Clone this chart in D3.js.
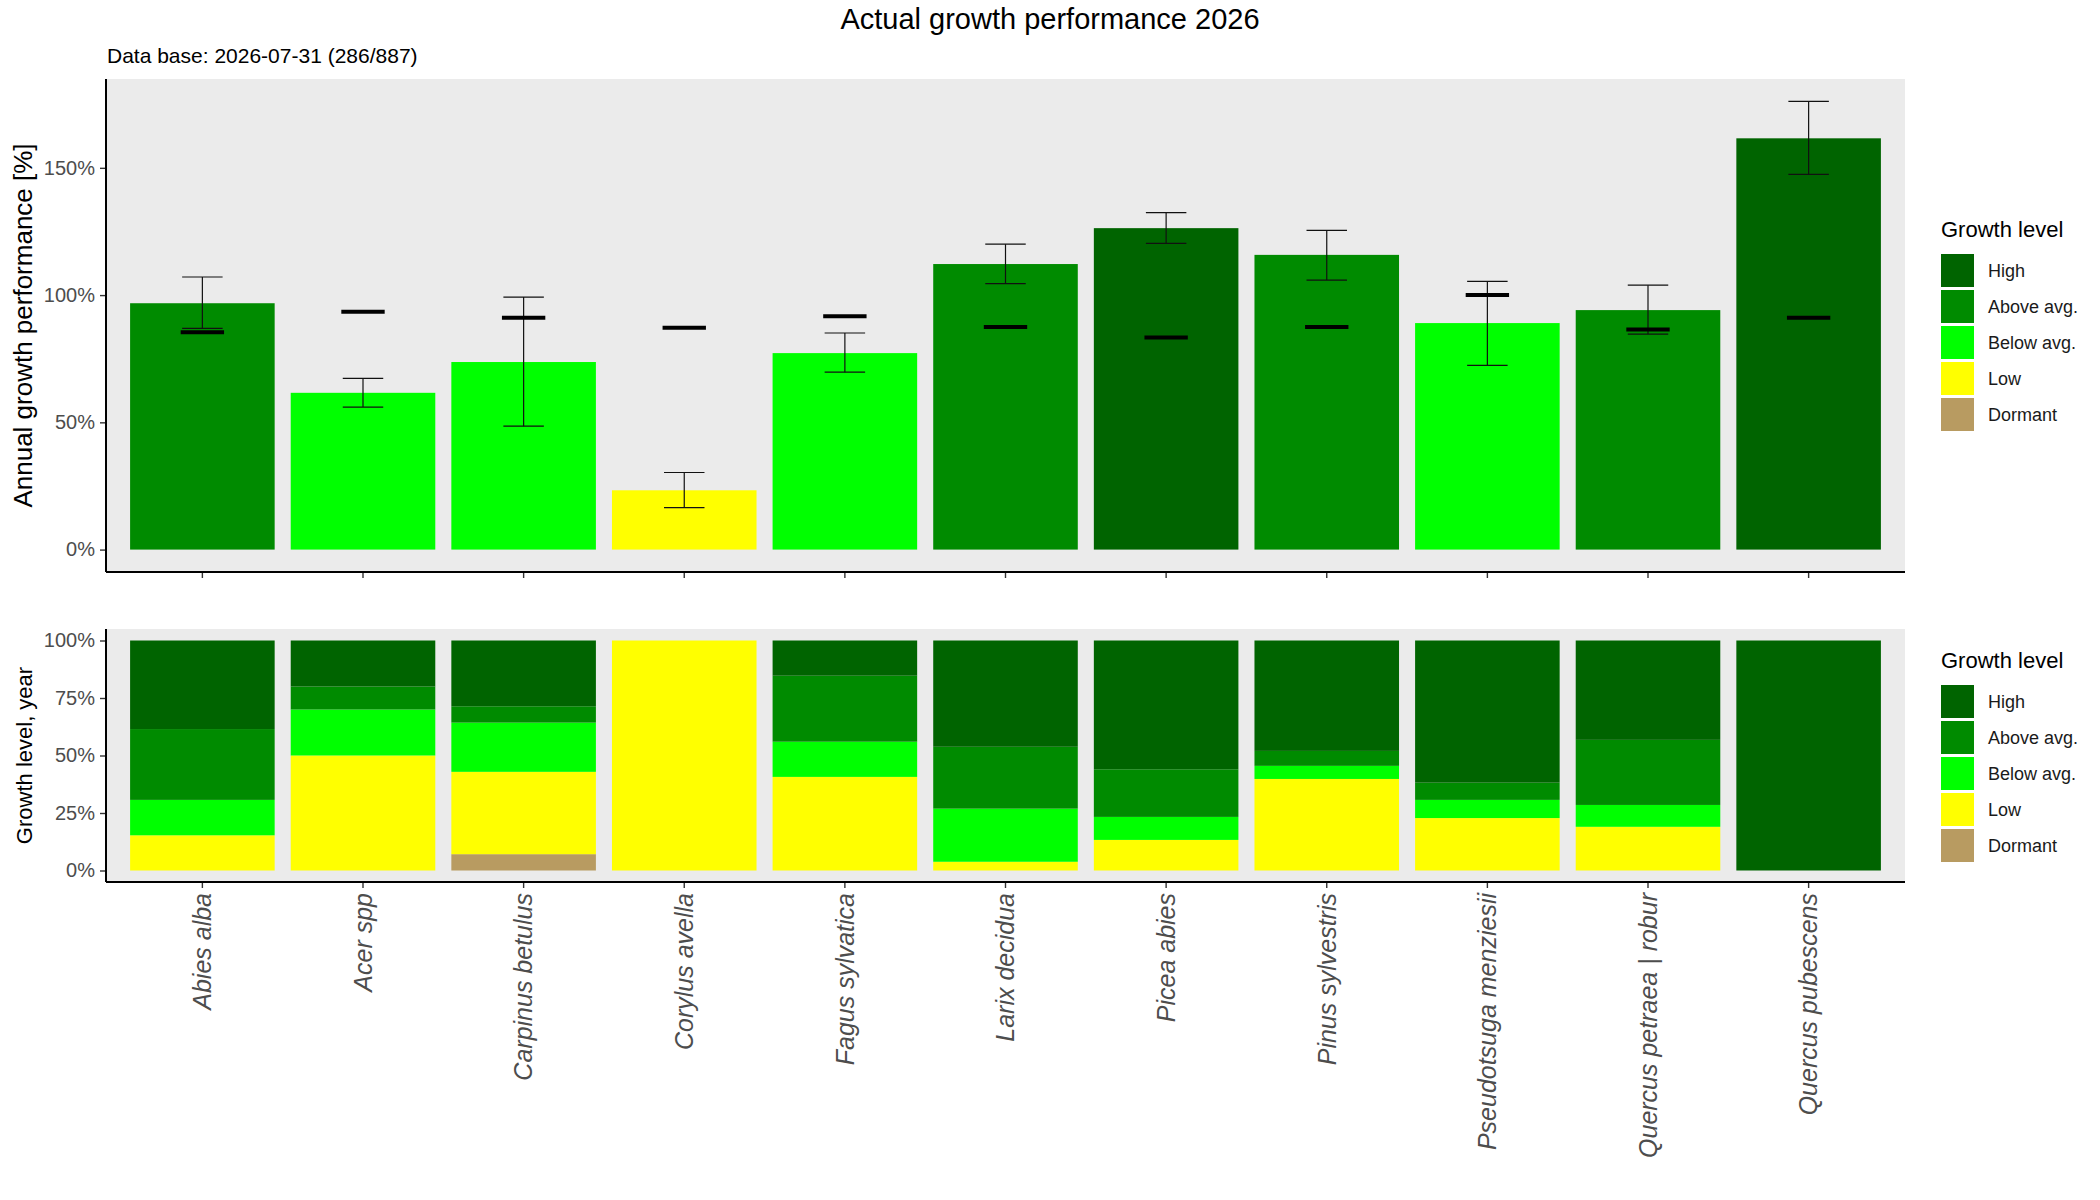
<!DOCTYPE html>
<html>
<head>
<meta charset="utf-8">
<script src="https://cdn.jsdelivr.net/npm/d3@7"></script>
<style>
  body { margin: 0; background: #fff; }
  text { font-family: "Liberation Sans", Arial, sans-serif; }
</style>
</head>
<body>
<div id="chart"></div>
<script>
// species on the x axis
var species = ["Abies alba", "Acer spp", "Carpinus betulus", "Corylus avella", "Fagus sylvatica",
  "Larix decidua", "Picea abies", "Pinus sylvestris", "Pseudotsuga menziesii",
  "Quercus petraea | robur", "Quercus pubescens"]

// top panel: actual growth, error range and reference mark (in %)
var growth = [96.8, 61.6, 73.7, 23.3, 77.2, 112.2, 126.3, 115.8, 89.0, 94.1, 161.6]
var errLow = [86.9, 56.0, 48.5, 16.5, 69.7, 104.5, 120.3, 105.9, 72.4, 84.7, 147.4]
var errHigh = [107.1, 67.3, 99.2, 30.3, 85.1, 120.0, 132.4, 125.4, 105.4, 103.9, 176.1]
var reference = [85.4, 93.5, 91.1, 87.2, 91.7, 87.5, 83.3, 87.5, 100.0, 86.5, 91.1]
var barLevel = ["Above avg.", "Below avg.", "Below avg.", "Low", "Below avg.", "Above avg.",
  "High", "Above avg.", "Below avg.", "Above avg.", "High"]

// growth levels
var levels = ["High", "Above avg.", "Below avg.", "Low", "Dormant"]
var levelColors = ["#006400", "#008B00", "#00FF00", "#FFFF00", "#B89B61"]

// bottom panel: share of each level over the year (in %)
var shareHigh = [38.5, 20, 28.6, 0, 15.3, 46.2, 56, 48, 61.8, 43.2, 100]
var shareAbove = [30.8, 10, 7.1, 0, 28.7, 26.9, 20.7, 6.5, 7.5, 28.3, 0]
var shareBelow = [15.4, 20, 21.4, 0, 15.3, 23.1, 10, 5.7, 7.9, 9.5, 0]
var shareLow = [15.3, 50, 35.8, 100, 40.7, 3.8, 13.3, 39.8, 22.8, 19, 0]
var shareDormant = [0, 0, 7.1, 0, 0, 0, 0, 0, 0, 0, 0]

var topTicks = [0, 50, 100, 150]
var bottomTicks = [0, 25, 50, 75, 100]

var W = 2100, H = 1200
var panelLeft = 106, panelRight = 1905
var top1 = 79, bot1 = 572
var top2 = 629, bot2 = 882

var color = d3.scaleOrdinal().domain(levels).range(levelColors)

var svg = d3.select("#chart").append("svg")
  .attr("width", W)
  .attr("height", H)

svg.append("text")
  .attr("x", 1050).attr("y", 29)
  .attr("text-anchor", "middle")
  .attr("font-size", 29)
  .attr("fill", "#000")
  .text("Actual growth performance 2026")

svg.append("text")
  .attr("x", 107).attr("y", 63)
  .attr("font-size", 21)
  .attr("fill", "#000")
  .text("Data base: 2026-07-31 (286/887)")

var x = d3.scaleBand()
  .domain(species)
  .range([panelLeft, panelRight])
  .paddingInner(0.1)
  .paddingOuter(0.15)

var yMax = d3.max(errHigh)
var y1 = d3.scaleLinear()
  .domain([-0.05 * yMax, yMax * 1.05])
  .range([bot1, top1])

var y2 = d3.scaleLinear()
  .domain([-5, 105])
  .range([bot2, top2])

function panel(yTop, yBot) {
  svg.append("rect")
    .attr("x", panelLeft).attr("y", yTop)
    .attr("width", panelRight - panelLeft)
    .attr("height", yBot - yTop)
    .attr("fill", "#EBEBEB")
}

function styleAxis(g, fontSize) {
  g.select(".domain").remove()
  g.selectAll(".tick line").attr("stroke", "#333").attr("stroke-width", 1.4)
  g.selectAll(".tick text")
    .attr("fill", "#4D4D4D")
    .attr("font-size", fontSize)
    .attr("font-family", "Liberation Sans, Arial, sans-serif")
}

function axisLines(yTop, yBot) {
  svg.append("line")
    .attr("x1", panelLeft).attr("x2", panelLeft)
    .attr("y1", yTop).attr("y2", yBot)
    .attr("stroke", "#000").attr("stroke-width", 2)
  svg.append("line")
    .attr("x1", panelLeft).attr("x2", panelRight)
    .attr("y1", yBot).attr("y2", yBot)
    .attr("stroke", "#000").attr("stroke-width", 2)
}

// ---------- top panel ----------
panel(top1, bot1)

svg.append("g")
  .selectAll("rect")
  .data(species)
  .enter().append("rect")
  .attr("x", function (d) { return x(d) })
  .attr("width", x.bandwidth())
  .attr("y", function (d, i) { return y1(growth[i]) })
  .attr("height", function (d, i) { return y1(0) - y1(growth[i]) })
  .attr("fill", function (d, i) { return color(barLevel[i]) })

var capW = x.bandwidth() * 0.28
var errG = svg.append("g").attr("stroke", "#111").attr("stroke-width", 1.2)
species.forEach(function (s, i) {
  var cx = x(s) + x.bandwidth() / 2
  errG.append("line")
    .attr("x1", cx).attr("x2", cx)
    .attr("y1", y1(errLow[i])).attr("y2", y1(errHigh[i]))
  errG.append("line")
    .attr("x1", cx - capW / 2).attr("x2", cx + capW / 2)
    .attr("y1", y1(errLow[i])).attr("y2", y1(errLow[i]))
  errG.append("line")
    .attr("x1", cx - capW / 2).attr("x2", cx + capW / 2)
    .attr("y1", y1(errHigh[i])).attr("y2", y1(errHigh[i]))
})

var markW = x.bandwidth() * 0.3
svg.append("g")
  .selectAll("line")
  .data(species)
  .enter().append("line")
  .attr("x1", function (d) { return x(d) + x.bandwidth() / 2 - markW / 2 })
  .attr("x2", function (d) { return x(d) + x.bandwidth() / 2 + markW / 2 })
  .attr("y1", function (d, i) { return y1(reference[i]) })
  .attr("y2", function (d, i) { return y1(reference[i]) })
  .attr("stroke", "#000")
  .attr("stroke-width", 4)

var yAxis1 = svg.append("g")
  .attr("transform", "translate(" + panelLeft + ",0)")
  .call(d3.axisLeft(y1).tickValues(topTicks).tickSize(6).tickPadding(5)
    .tickFormat(function (d) { return d + "%" }))
styleAxis(yAxis1, 20)

var xAxis1 = svg.append("g")
  .attr("transform", "translate(0," + bot1 + ")")
  .call(d3.axisBottom(x).tickSize(6).tickFormat(""))
styleAxis(xAxis1, 20)

axisLines(top1, bot1)

svg.append("text")
  .attr("transform", "translate(32," + (top1 + bot1) / 2 + ") rotate(-90)")
  .attr("text-anchor", "middle")
  .attr("font-size", 26)
  .attr("fill", "#000")
  .text("Annual growth performance [%]")

// ---------- bottom panel ----------
panel(top2, bot2)

var shares = species.map(function (s, i) {
  return { species: s, "High": shareHigh[i], "Above avg.": shareAbove[i],
    "Below avg.": shareBelow[i], "Low": shareLow[i], "Dormant": shareDormant[i] }
})

var stack = d3.stack().keys(levels.slice().reverse())
var series = stack(shares)

svg.append("g")
  .selectAll("g")
  .data(series)
  .enter().append("g")
  .attr("fill", function (d) { return color(d.key) })
  .selectAll("rect")
  .data(function (d) { return d })
  .enter().append("rect")
  .attr("x", function (d) { return x(d.data.species) })
  .attr("width", x.bandwidth())
  .attr("y", function (d) { return y2(d[1]) })
  .attr("height", function (d) { return y2(d[0]) - y2(d[1]) })

var yAxis2 = svg.append("g")
  .attr("transform", "translate(" + panelLeft + ",0)")
  .call(d3.axisLeft(y2).tickValues(bottomTicks).tickSize(6).tickPadding(5)
    .tickFormat(function (d) { return d + "%" }))
styleAxis(yAxis2, 20)

var xAxis2 = svg.append("g")
  .attr("transform", "translate(0," + bot2 + ")")
  .call(d3.axisBottom(x).tickSize(6))
styleAxis(xAxis2, 25)
xAxis2.selectAll(".tick text")
  .attr("font-style", "italic")
  .attr("text-anchor", "end")
  .attr("transform", "rotate(-90)")
  .attr("x", -11)
  .attr("y", 0)
  .attr("dy", "0.35em")

axisLines(top2, bot2)

svg.append("text")
  .attr("transform", "translate(32," + (top2 + bot2) / 2 + ") rotate(-90)")
  .attr("text-anchor", "middle")
  .attr("font-size", 22)
  .attr("fill", "#000")
  .text("Growth level, year")

// ---------- legends ----------
function legend(keyTop) {
  var g = svg.append("g")
  g.append("text")
    .attr("x", 1941).attr("y", keyTop - 17)
    .attr("font-size", 22)
    .attr("fill", "#000")
    .text("Growth level")
  levels.forEach(function (lv, i) {
    g.append("rect")
      .attr("x", 1941).attr("y", keyTop + i * 36)
      .attr("width", 33).attr("height", 33)
      .attr("fill", color(lv))
    g.append("text")
      .attr("x", 1988).attr("y", keyTop + i * 36 + 16.5)
      .attr("dy", "0.35em")
      .attr("font-size", 18)
      .attr("fill", "#1A1A1A")
      .text(lv)
  })
}
legend(254)
legend(685)
</script>
</body>
</html>
